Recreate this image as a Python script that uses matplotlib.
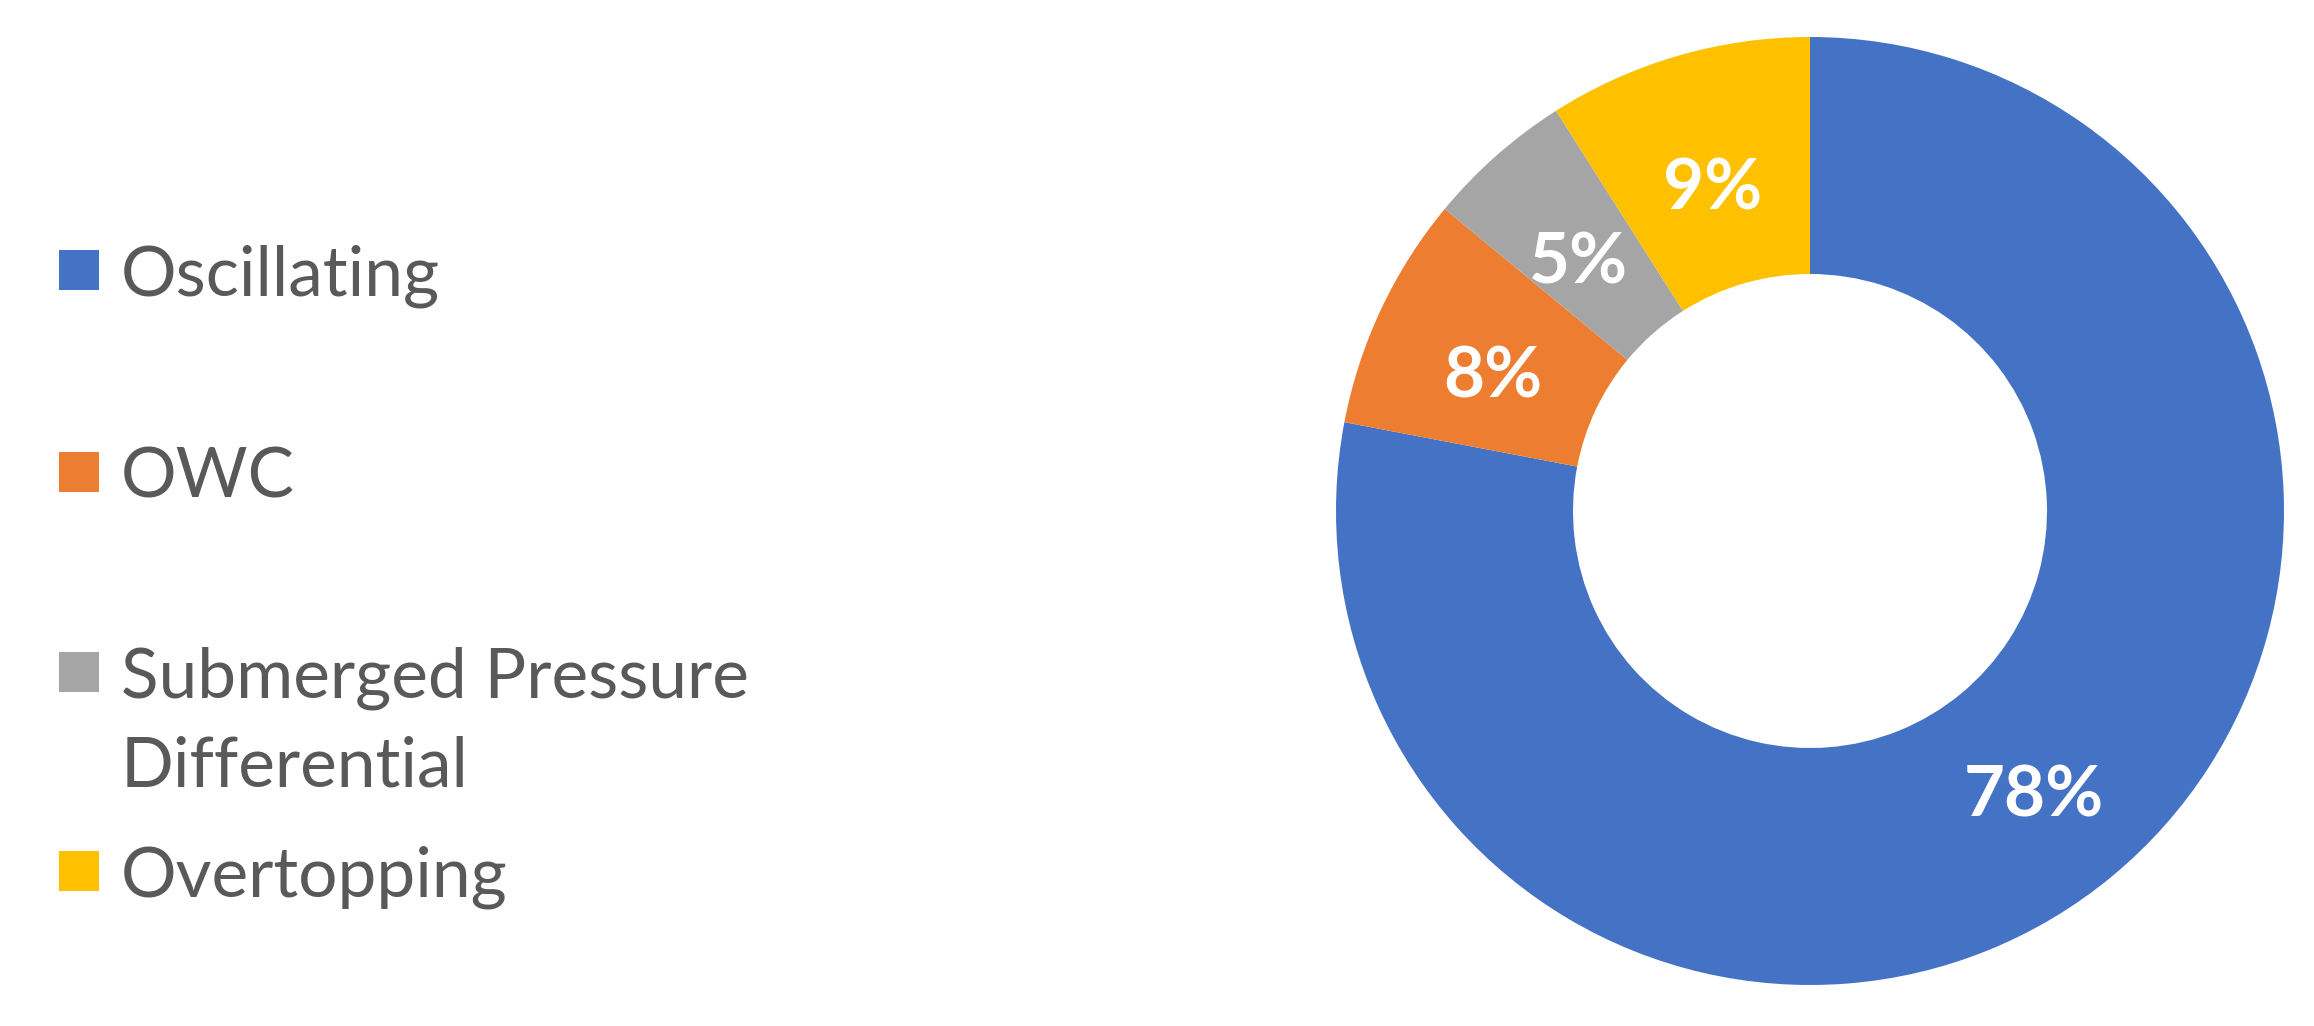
import matplotlib
matplotlib.use("Agg")
from matplotlib import pyplot as plt
from matplotlib.patches import Rectangle
from matplotlib.transforms import offset_copy

categories = ["Oscillating", "OWC", "Submerged Pressure\nDifferential", "Overtopping"]
shares = [78, 8, 5, 9]
colors = ["#4472C4", "#ED7D31", "#A5A5A5", "#FFC000"]

W, H = 2314, 1026
plt.rcParams['font.family'] = ['Lato', 'DejaVu Sans']

fig = plt.figure(figsize=(W / 100, H / 100), dpi=100)

# donut: centre (1810, 511) px, outer radius 474 px
cx, cy, r = 1810, 511, 474
ax = fig.add_axes([(cx - r) / W, (H - cy - r) / H, 2 * r / W, 2 * r / H])
wedges, texts, autotexts = ax.pie(
    shares, colors=colors, startangle=90, counterclock=False, radius=1,
    wedgeprops=dict(width=0.5, linewidth=0),
    autopct=lambda p: "%d%%" % round(p), pctdistance=0.74,
    textprops=dict(color="white", fontsize=51, fontweight="bold"))
for t in autotexts:
    t.set_va("center_baseline")
    t.set_transform(offset_copy(ax.transData, fig=fig, x=0, y=-9, units="dots"))
ax.set_xlim(-1, 1)
ax.set_ylim(-1, 1)
ax.axis("off")

# legend drawn by hand (Excel-like uneven spacing)
row_y = [270, 472, 672, 871]
line_step = 89
for lab, col, y in zip(categories, colors, row_y):
    fig.patches.append(Rectangle((59 / W, (H - y - 20) / H), 40 / W, 40 / H,
                                 transform=fig.transFigure, facecolor=col,
                                 edgecolor="none"))
    for j, line in enumerate(lab.split("\n")):
        fig.text(121 / W, (H - y - j * line_step) / H, line, color="#595959",
                 fontsize=50, va="center_baseline", ha="left")

fig.savefig("out.png", dpi=100)
